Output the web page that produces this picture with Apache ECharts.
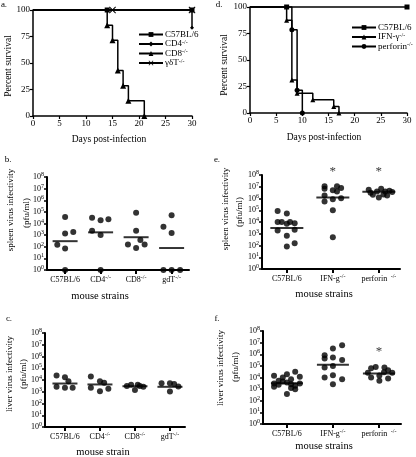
<!DOCTYPE html>
<html><head><meta charset="utf-8">
<script src="https://cdn.jsdelivr.net/npm/echarts@6/dist/echarts.min.js"></script>
<style>html,body{margin:0;padding:0;background:#fff}#c{width:416px;height:457px}</style>
</head><body><div id="c"></div>
<script>
const FONT = '"Liberation Serif", "Times New Roman", "DejaVu Serif", serif';

// ---------- Panel a: survival ----------
const aC57Days = [0, 14, 30],                 aC57Surv = [100, 100, 100];
const aCD4Days = [0, 30, 30],                 aCD4Surv = [100, 100, 83.3];
const aCD8Days = [0, 14, 15, 16, 17, 18, 21], aCD8Surv = [100, 85.7, 71.4, 42.9, 28.6, 14.3, 0];
const aGdtDays = [0, 15, 30],                 aGdtSurv = [100, 100, 100];

// ---------- Panel d: survival ----------
const dC57Days = [0, 7, 30],                  dC57Surv = [100, 100, 100];
const dIfnDays = [0, 7, 8, 9, 12, 16, 17],    dIfnSurv = [100, 87.5, 31.25, 18.75, 12.5, 6.25, 0];
const dPerfDays = [0, 8, 9, 10],              dPerfSurv = [100, 78.6, 21.4, 0];

// ---------- Panel b: spleen (log10 pfu/ml) ----------
const bCategories = ['C57BL/6', 'CD4', 'CD8', 'gdT'];
const bSup = ['', '-/-', '-/-', '-/-'];
const bPoints = [
  [1.0,4.56],[1.0,3.15],[1.23,3.27],[0.78,2.17],[1.0,1.86],[1.0,0],
  [1.76,4.5],[2.0,4.28],[2.22,4.37],[1.76,3.38],[2.0,3.01],[2.0,0],
  [3.0,4.93],[3.0,3.38],[3.12,2.59],[2.77,2.2],[3.0,1.89],[3.24,2.2],
  [3.77,3.72],[4.0,4.7],[4.0,3.18],[3.77,0],[4.0,0],[4.24,0]
];
const bMedians = [2.48, 3.24, 2.82, 1.89];

// ---------- Panel c: liver ----------
const cCategories = ['C57BL/6', 'CD4', 'CD8', 'gdT'];
const cSup = ['', '-/-', '-/-', '-/-'];
const cPoints = [
  [0.76,4.38],[1.0,4.24],[1.1,3.9],[0.76,3.42],[1.0,3.33],[1.22,3.33],
  [1.74,4.3],[2.0,3.9],[2.12,3.76],[1.74,3.33],[2.0,3.05],[2.24,3.25],
  [2.77,3.5],[2.89,3.6],[3.08,3.6],[3.0,3.14],[3.24,3.42],[3.14,3.5],
  [3.76,3.73],[4.0,3.73],[4.12,3.67],[4.24,3.45],[4.0,3.02]
];
const cMedians = [3.7, 3.62, 3.47, 3.42];

// ---------- Panel e: spleen ----------
const eCategories = ['C57BL/6', 'IFN-g', 'perforin '];
const eSup = ['', '-/-', ' -/-'];
const ePoints = [
  [0.8,4.93],[1.0,4.72],[0.8,4.0],[0.89,4.0],[1.0,3.86],[1.07,4.0],[1.17,3.9],[0.8,3.28],[1.17,3.33],[1.0,2.84],[1.0,1.91],[1.17,2.2],
  [1.82,7.04],[1.82,6.84],[2.09,7.04],[2.18,6.9],[2.0,6.7],[2.09,6.6],[1.82,6.26],[1.82,5.74],[2.0,5.94],[2.18,6.03],[2.0,5.0],[2.0,2.7],
  [2.78,6.75],[2.87,6.32],[2.96,6.6],[3.05,6.84],[3.14,6.6],[3.23,6.67],[3.29,6.55],[3.0,6.09],[3.18,6.26],[2.82,6.5],[3.1,6.35]
];
const eMedians = [3.5, 6.09, 6.58];
const eStars = [[2, 8.25], [3, 8.25]];

// ---------- Panel f: liver ----------
const fCategories = ['C57BL/6', 'IFN-g', 'perforin '];
const fSup = ['', '-/-', ' -/-'];
const fPoints = [
  [0.72,4.14],[0.91,4.0],[1.0,4.29],[1.18,4.49],[1.09,3.86],[1.28,4.06],[0.72,3.49],[0.82,3.37],[0.91,3.66],[1.0,3.57],[1.09,3.43],[1.18,3.29],[0.82,3.71],[1.28,3.49],[1.0,2.57],[1.18,3.0],[0.72,3.2],[1.09,3.1],
  [2.2,6.77],[2.0,6.49],[1.82,5.91],[1.82,5.63],[2.0,5.71],[2.2,5.51],[1.82,4.86],[2.0,5.0],[1.82,4.0],[2.0,4.2],[2.2,3.86],[2.0,3.43],
  [2.83,4.8],[2.93,4.91],[3.12,4.86],[3.2,4.63],[2.83,4.0],[3.01,4.17],[3.11,4.46],[3.29,4.4],[3.01,3.71],[3.2,3.91],[2.76,4.4]
];
const fMedians = [3.51, 5.09, 4.34];
const fStars = [[3, 6.2]];

const logTicks = [0, 1, 2, 3, 4, 5, 6, 7, 8];

// ---------- build ----------
const chart = echarts.init(document.getElementById('c'), null, {renderer: 'canvas'});
const BLACK = '#000';
const supRich = {
  s: {fontSize: 6, fontFamily: FONT, color: BLACK, verticalAlign: 'top', lineHeight: 6},
  t: {fontSize: 8, fontFamily: FONT, color: BLACK, lineHeight: 11}
};

function km(days, surv, hidden) {
  return days.map((d, i) => hidden.includes(i) ? {value: [d, surv[i]], symbol: 'none'} : {value: [d, surv[i]]});
}
const xPath = 'path://M0,1L1,0L5,4L9,0L10,1L6,5L10,9L9,10L5,6L1,10L0,9L4,5Z';

const grids = [
  {left: 33, top: 10, width: 159, height: 106},   // a
  {left: 250, top: 7, width: 157, height: 106},   // d
  {left: 47, top: 177, width: 142, height: 93},   // b
  {left: 262, top: 175, width: 138, height: 94},  // e
  {left: 45, top: 333, width: 140, height: 94},   // c
  {left: 263, top: 331, width: 138, height: 93}   // f
];

function survX(gi) {
  return {type: 'value', gridIndex: gi, min: 0, max: 30, interval: 5,
    axisLine: {lineStyle: {color: BLACK, width: 1.5}},
    axisTick: {inside: false, length: 3, lineStyle: {color: BLACK, width: 1.2}},
    axisLabel: {color: BLACK, fontFamily: FONT, fontSize: 9, margin: 3},
    splitLine: {show: false}};
}
function survY(gi) {
  return {type: 'value', gridIndex: gi, min: 0, max: 100, interval: 25,
    axisLine: {show: true, lineStyle: {color: BLACK, width: 1.5}},
    axisTick: {show: true, inside: false, length: 3, lineStyle: {color: BLACK, width: 1.2}},
    axisLabel: {color: BLACK, fontFamily: FONT, fontSize: 9, margin: 3},
    splitLine: {show: false}};
}
function catX(gi, min, max, cats, sups) {
  const vals = cats.map((c, i) => i + 1);
  return {type: 'value', gridIndex: gi, min: min, max: max,
    axisLine: {lineStyle: {color: BLACK, width: 2}},
    axisTick: {show: true, customValues: vals, length: 4, lineStyle: {color: BLACK, width: 2}},
    axisLabel: {customValues: vals, margin: 4, color: BLACK, fontFamily: FONT, fontSize: 8,
      formatter: v => {const i = Math.round(v) - 1; return '{t|' + cats[i] + '}' + (sups[i] ? '{s|' + sups[i] + '}' : '');},
      rich: supRich},
    splitLine: {show: false}};
}
function logY(gi) {
  return {type: 'value', gridIndex: gi, min: 0, max: 8, interval: 1,
    axisLine: {show: true, lineStyle: {color: BLACK, width: 2}},
    axisTick: {show: true, length: 3, lineStyle: {color: BLACK, width: 1.5}},
    axisLabel: {margin: 3, color: BLACK, fontFamily: FONT, fontSize: 8,
      formatter: v => '{t|10}{s|' + logTicks[v] + '}', rich: supRich},
    splitLine: {show: false}};
}

const xAxes = [survX(0), survX(1),
  catX(2, 0.49, 4.49, bCategories, bSup),
  catX(3, 0.46, 3.46, eCategories, eSup),
  catX(4, 0.43, 4.43, cCategories, cSup),
  catX(5, 0.48, 3.48, fCategories, fSup)];
const yAxes = [survY(0), survY(1), logY(2), logY(3), logY(4), logY(5)];

function lineS(name, ai, days, surv, hidden, symbol, size) {
  return {type: 'line', name: name, xAxisIndex: ai, yAxisIndex: ai, step: 'end',
    data: km(days, surv, hidden), symbol: symbol, symbolSize: size, showAllSymbol: true,
    lineStyle: {color: BLACK, width: 1.5}, itemStyle: {color: BLACK}, clip: false, z: 3};
}
function dots(ai, pts) {
  return {type: 'scatter', xAxisIndex: ai, yAxisIndex: ai, data: pts, symbol: 'circle', symbolSize: 6,
    itemStyle: {color: BLACK}, clip: false, z: 3};
}
function medians(ai, meds, w) {
  return {type: 'scatter', xAxisIndex: ai, yAxisIndex: ai, data: meds.map((m, i) => [i + 1, m]),
    symbol: 'rect', symbolSize: [w, 2], itemStyle: {color: BLACK}, clip: false, z: 4};
}
function stars(ai, pts) {
  return {type: 'scatter', xAxisIndex: ai, yAxisIndex: ai, data: pts, symbolSize: 0, clip: false,
    label: {show: true, position: 'inside', formatter: '*', color: BLACK, fontFamily: FONT, fontSize: 13}};
}

const series = [
  lineS('aC57', 0, aC57Days, aC57Surv, [0], 'rect', 5),
  lineS('aCD4', 0, aCD4Days, aCD4Surv, [0, 1], 'diamond', 4),
  lineS('aCD8', 0, aCD8Days, aCD8Surv, [0], 'triangle', 6),
  lineS('aGdt', 0, aGdtDays, aGdtSurv, [0], xPath, 7),
  lineS('dC57', 1, dC57Days, dC57Surv, [0], 'rect', 5),
  lineS('dIfn', 1, dIfnDays, dIfnSurv, [0], 'triangle', 5),
  lineS('dPerf', 1, dPerfDays, dPerfSurv, [0], 'circle', 5),
  dots(2, bPoints), medians(2, bMedians, 25),
  dots(3, ePoints), medians(3, eMedians, 33), stars(3, eStars),
  dots(4, cPoints), medians(4, cMedians, 25),
  dots(5, fPoints), medians(5, fMedians, 32), stars(5, fStars)
];

const legendNames = {
  aC57: '{t|C57BL/6}', aCD4: '{t|CD4}{s|-/-}', aCD8: '{t|CD8}{s|-/-}', aGdt: '{t|γδT}{s|-/-}',
  dC57: '{t|C57BL/6}', dIfn: '{t|IFN-γ}{s|-/-}', dPerf: '{t|perforin}{s|-/-}'
};
const legRich = {
  s: {fontSize: 6, fontFamily: FONT, color: BLACK, verticalAlign: 'top', lineHeight: 6},
  t: {fontSize: 9, fontFamily: FONT, color: BLACK, lineHeight: 10}
};
function legend(left, top, names) {
  return {orient: 'vertical', left: left, top: top, itemWidth: 24, itemHeight: 6, itemGap: 0,
    padding: 0, data: names, selectedMode: false, formatter: n => legendNames[n],
    textStyle: {rich: legRich, padding: [0, 0, 0, -3]}, itemStyle: {color: BLACK}};
}

function txt(x, y, s, size, rot) {
  return {type: 'text', x: x, y: y, rotation: rot ? Math.PI / 2 : 0, silent: true,
    style: {text: s, fill: BLACK, font: size + 'px ' + FONT, align: 'center', verticalAlign: 'middle'}};
}
const graphics = [
  txt(4, 5, 'a.', 9), txt(219, 5, 'd.', 9), txt(8, 160, 'b.', 9), txt(217, 160, 'e.', 9),
  txt(9, 319, 'c.', 9), txt(217, 319, 'f.', 9),
  txt(8, 66, 'Percent survival', 9.5, true), txt(109, 139, 'Days post-infection', 9.5),
  txt(224, 65, 'Percent survival', 9.5, true), txt(324, 137, 'Days post-infection', 9.5),
  txt(11, 210, 'spleen virus infectivity', 9, true), txt(27, 213, '(pfu/ml)', 9, true),
  txt(100, 296, 'mouse strains', 10.5),
  txt(226, 209, 'spleen virus infectivity', 9, true), txt(240, 212, '(pfu/ml)', 9, true),
  txt(324, 294, 'mouse strains', 10.5),
  txt(10, 374, 'liver virus infectivity', 9, true), txt(24, 374, '(pfu/ml)', 9, true),
  txt(103, 452, 'mouse strain', 10.5),
  txt(221, 368, 'liver virus infectivity', 9, true), txt(236, 367, '(pfu/ml)', 9, true),
  txt(324, 446, 'mouse strains', 10.5)
];

chart.setOption({
  animation: false,
  backgroundColor: '#fff',
  grid: grids,
  xAxis: xAxes,
  yAxis: yAxes,
  legend: [legend(138, 30, ['aC57', 'aCD4', 'aCD8', 'aGdt']), legend(351, 23, ['dC57', 'dIfn', 'dPerf'])],
  series: series,
  graphic: graphics
});
</script></body></html>
